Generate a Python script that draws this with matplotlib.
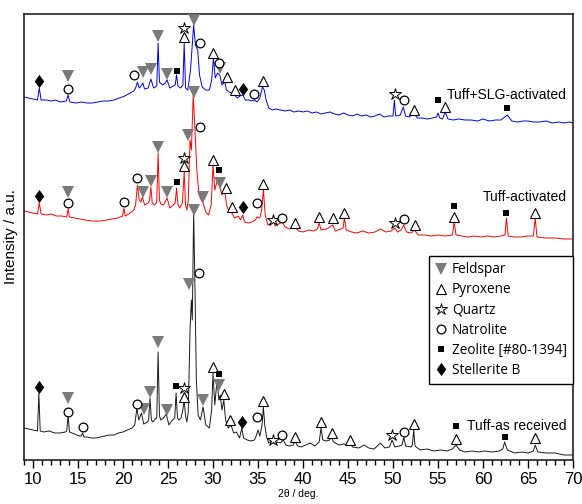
import matplotlib
matplotlib.use("Agg")
import matplotlib.pyplot as plt
from matplotlib.lines import Line2D

# ---------------- data (2theta in deg, intensity in a.u.) ----------------
asrec_2t = [9.0, 9.5, 10.0, 10.5, 10.65, 10.8, 11.2, 11.8, 12.4, 13.0,
            13.6, 13.75, 13.9, 14.05, 14.6, 15.2, 15.35, 15.5, 15.65, 16.0,
            16.5, 17.0, 17.5, 18.0, 18.5, 19.0, 19.5, 20.0, 20.5, 21.0,
            21.3, 21.55, 21.75, 22.05, 22.3, 22.7, 22.85, 23.0, 23.15, 23.3,
            23.6, 23.75, 23.9, 24.05, 24.2, 24.5, 24.8, 25.1, 25.5, 25.75,
            25.9, 26.05, 26.2, 26.45, 26.65, 26.8, 26.95, 27.1, 27.25, 27.45,
            27.6, 27.7, 27.85, 28.0, 28.15, 28.35, 28.6, 28.9, 29.2, 29.6,
            29.85, 30.0, 30.2, 30.45, 30.65, 30.8, 31.0, 31.2, 31.4, 31.7,
            32.0, 32.3, 32.6, 32.95, 33.2, 33.4, 33.8, 34.2, 34.6, 34.8,
            35.0, 35.2, 35.45, 35.6, 35.75, 35.95, 36.2, 36.6, 36.8, 37.1,
            37.5, 37.8, 38.1, 38.5, 38.9, 39.1, 39.4, 39.8, 40.3, 40.8,
            41.3, 41.8, 42.0, 42.2, 42.6, 42.95, 43.15, 43.4, 44.0, 44.5,
            45.0, 45.2, 45.5, 46.2, 46.8, 47.3, 47.9, 48.6, 49.1, 49.6,
            49.9, 50.2, 50.7, 51.0, 51.2, 51.4, 52.0, 52.15, 52.3, 52.45,
            53.0, 53.8, 54.5, 55.3, 56.0, 56.6, 57.0, 57.4, 58.0, 58.8,
            59.5, 60.2, 61.0, 61.8, 62.2, 62.4, 62.7, 63.5, 64.3, 65.0,
            65.6, 65.8, 66.1, 67.0, 68.0, 69.0, 70.0]
asrec_int = [32, 31, 30, 29, 67, 29, 28, 29, 27, 27,
             28, 29, 45, 28, 26, 24, 24, 27, 23, 23,
             22, 22, 23, 24, 25, 25, 27, 28, 30, 32,
             35, 52, 40, 47, 36, 38, 40, 62, 40, 38,
             41, 42, 108, 44, 40, 42, 46, 35, 40, 42,
             67, 42, 40, 42, 50, 60, 44, 38, 48, 130,
             160, 140, 248, 170, 80, 45, 40, 53, 35, 32,
             50, 87, 55, 80, 60, 65, 50, 60, 40, 32,
             35, 27, 28, 22, 32, 22, 20, 19, 20, 24,
             30, 24, 35, 53, 35, 23, 17, 20, 16, 18,
             17, 20, 15, 14, 15, 19, 14, 13, 15, 17,
             14, 18, 32, 20, 19, 20, 23, 18, 15, 16,
             15, 17, 13, 12, 15, 12, 11, 17, 12, 13,
             20, 13, 14, 15, 23, 14, 13, 15, 30, 14,
             10, 11, 9, 10, 9, 11, 15, 10, 8, 9,
             8, 9, 8, 9, 11, 18, 10, 7, 8, 7,
             9, 15, 8, 7, 7, 5, 5]

act_2t = [9.0, 9.5, 10.0, 10.5, 10.7, 10.9, 11.5, 12.0, 12.6, 13.2,
          13.75, 13.9, 14.05, 14.6, 15.2, 15.8, 16.4, 17.0, 17.6, 18.2,
          18.8, 19.4, 19.95, 20.1, 20.25, 20.8, 21.2, 21.4, 21.6, 21.8,
          22.0, 22.15, 22.4, 22.8, 22.95, 23.1, 23.25, 23.5, 23.75, 23.9,
          24.05, 24.2, 24.5, 24.9, 25.2, 25.6, 25.8, 25.95, 26.1, 26.3,
          26.6, 26.8, 26.95, 27.1, 27.25, 27.45, 27.6, 27.8, 28.0, 28.2,
          28.45, 28.7, 28.9, 29.2, 29.5, 29.8, 30.0, 30.2, 30.5, 30.75,
          31.0, 31.3, 31.5, 31.8, 32.1, 32.4, 32.8, 33.05, 33.3, 33.5,
          33.9, 34.3, 34.7, 34.9, 35.2, 35.4, 35.6, 35.8, 36.1, 36.5,
          36.7, 36.9, 37.3, 37.7, 38.0, 38.5, 39.1, 39.5, 40.0, 40.6,
          41.2, 41.6, 41.8, 42.0, 42.6, 43.0, 43.3, 43.6, 44.2, 44.45,
          44.6, 44.8, 45.4, 46.0, 46.6, 47.3, 48.0, 48.6, 49.2, 49.8,
          50.2, 50.5, 50.9, 51.2, 51.5, 52.0, 52.4, 52.8, 53.5, 54.2,
          55.0, 55.8, 56.6, 56.8, 57.0, 57.6, 58.3, 59.0, 59.8, 60.5,
          61.2, 62.0, 62.45, 62.6, 62.8, 63.5, 64.2, 65.0, 65.6, 65.8,
          66.0, 67.0, 68.0, 69.0, 70.0]
act_int = [249, 248, 247, 246, 257, 246, 245, 246, 244, 244,
           243, 251, 243, 242, 241, 240, 239, 239, 239, 240,
           241, 242, 244, 252, 244, 247, 250, 255, 275, 260,
           258, 263, 255, 257, 260, 273, 257, 255, 258, 307,
           260, 256, 255, 262, 252, 255, 257, 272, 256, 252,
           257, 288, 255, 250, 260, 320, 310, 365, 330, 290,
           265, 260, 257, 248, 245, 255, 295, 270, 280, 273,
           265, 270, 255, 248, 247, 242, 244, 240, 245, 238,
           237, 238, 240, 243, 242, 250, 270, 245, 235, 237,
           240, 234, 236, 238, 233, 231, 233, 229, 228, 230,
           229, 231, 237, 230, 231, 233, 235, 229, 231, 232,
           242, 230, 228, 227, 229, 227, 228, 231, 228, 229,
           232, 228, 230, 235, 228, 227, 230, 225, 225, 224,
           225, 224, 225, 238, 225, 224, 223, 224, 223, 224,
           223, 224, 225, 242, 224, 223, 223, 224, 224, 242,
           223, 222, 222, 221, 221]

slg_2t = [9.0, 9.5, 10.0, 10.5, 10.7, 10.9, 11.5, 12.0, 12.5, 13.0,
          13.7, 13.9, 14.1, 14.8, 15.4, 16.0, 16.6, 17.2, 17.8, 18.4,
          19.0, 19.6, 20.2, 20.8, 21.2, 21.4, 21.6, 21.8, 22.0, 22.2,
          22.4, 22.8, 23.1, 23.4, 23.75, 23.9, 24.05, 24.4, 24.7, 24.9,
          25.2, 25.6, 25.8, 25.95, 26.1, 26.4, 26.65, 26.8, 26.95, 27.2,
          27.5, 27.85, 28.05, 28.3, 28.5, 28.8, 29.2, 29.6, 29.85, 30.05,
          30.25, 30.5, 30.75, 31.0, 31.3, 31.5, 31.8, 32.1, 32.4, 32.7,
          33.0, 33.3, 33.6, 34.0, 34.3, 34.6, 34.9, 35.2, 35.5, 35.7,
          35.9, 36.2, 36.6, 37.0, 37.5, 38.0, 38.5, 39.0, 39.5, 40.0,
          40.5, 41.0, 41.5, 42.0, 42.5, 43.0, 43.5, 44.0, 44.5, 45.0,
          45.5, 46.0, 46.5, 47.0, 47.5, 48.0, 48.5, 49.0, 49.5, 50.0,
          50.15, 50.3, 50.8, 51.15, 51.4, 51.8, 52.3, 52.7, 53.2, 53.8,
          54.4, 54.85, 55.0, 55.2, 55.5, 55.8, 56.1, 56.7, 57.3, 58.0,
          58.7, 59.4, 60.0, 60.7, 61.4, 62.0, 62.7, 63.2, 63.8, 64.5,
          65.0, 65.6, 66.3, 67.0, 67.7, 68.4, 69.0, 69.6, 70.0]
slg_int = [363, 362, 361, 360, 372, 360, 360, 359, 360, 358,
           359, 365, 358, 357, 358, 357, 357, 358, 359, 359,
           360, 362, 364, 367, 369, 372, 378, 372, 374, 377,
           371, 372, 381, 372, 374, 417, 378, 375, 377, 380,
           372, 374, 375, 385, 374, 372, 375, 417, 372, 370,
           390, 435, 415, 410, 385, 373, 370, 370, 380, 402,
           382, 387, 385, 375, 378, 370, 368, 367, 365, 362,
           364, 365, 360, 360, 359, 360, 358, 362, 373, 370,
           360, 352, 350, 351, 350, 349, 350, 348, 349, 348,
           349, 347, 348, 346, 347, 348, 346, 345, 347, 345,
           344, 346, 344, 345, 343, 344, 346, 343, 344, 344,
           360, 344, 345, 353, 344, 343, 347, 342, 342, 341,
           342, 343, 347, 342, 341, 348, 341, 340, 341, 340,
           340, 339, 341, 339, 340, 340, 345, 339, 338, 339,
           339, 338, 338, 339, 337, 338, 337, 338, 337]

# phase markers: (2theta, intensity) for each sample
feldspar_2t = [13.9, 22.3, 23.0, 23.9, 24.9, 27.3, 27.85, 28.9, 30.7,
               13.9, 22.2, 23.1, 23.9, 24.9, 27.2, 27.85, 28.9, 30.8,
               13.9, 22.2, 23.1, 23.9, 24.9, 27.85, 30.8]
feldspar_int = [62, 51, 68, 118, 50, 176, 250, 60, 75,
                268, 268, 279, 313, 268, 325, 368, 263, 277,
                384, 388, 391, 424, 386, 440, 392]
pyroxene_2t = [26.8, 30.0, 31.2, 31.9, 35.6, 39.1, 42.0, 43.2, 45.2, 52.3, 57.0, 65.8,
               26.8, 30.0, 31.4, 32.1, 35.6, 39.1, 41.8, 43.3, 44.6, 52.4, 56.8, 65.8,
               26.8, 30.0, 31.5, 32.4, 35.6, 52.3, 55.8]
pyroxene_int = [63, 93, 66, 40, 59, 23, 38, 27, 20, 36, 21, 22,
                294, 300, 272, 253, 276, 237, 243, 242, 247, 235, 243, 247,
                423, 407, 383, 370, 379, 350, 353]
quartz_2t = [26.8, 36.7, 49.9, 26.8, 36.7, 50.2, 26.8, 50.2]
quartz_int = [72, 20, 25, 302, 240, 237, 432, 366]
natrolite_2t = [13.9, 15.5, 21.5, 28.4, 34.9, 37.7, 51.2,
                13.9, 20.1, 21.6, 28.5, 34.9, 37.7, 51.2,
                13.9, 21.2, 28.5, 30.7, 34.6, 51.2]
natrolite_int = [48, 33, 56, 187, 43, 25, 28,
                 257, 258, 282, 333, 257, 242, 241,
                 371, 385, 417, 397, 366, 360]
zeolite_2t = [25.9, 30.7, 57.0, 62.4, 26.0, 30.7, 56.8, 62.6, 26.0, 55.0, 62.7]
zeolite_int = [74, 86, 34, 23, 278, 290, 254, 247, 389, 360, 352]
stellerite_2t = [10.65, 33.2, 10.7, 33.3, 10.7, 33.3]
stellerite_int = [73, 38, 264, 253, 379, 371]

sample_labels = ["Tuff+SLG-activated", "Tuff-activated", "Tuff-as received"]
sample_label_int = [365, 263, 34]
phase_names = ["Feldspar", "Pyroxene", "Quartz", "Natrolite",
               "Zeolite [#80-1394]", "Stellerite B"]
xticks = list(range(10, 75, 5))

# ---------------- figure ----------------
fig = plt.figure(figsize=(5.82, 5.04), dpi=100)
ax = fig.add_axes([24 / 582, 44 / 504, 549 / 582, 446 / 504])

ax.plot(asrec_2t, asrec_int, color="#1a1a1a", lw=0.7, zorder=2)
ax.plot(act_2t, act_int, color="#ff0000", lw=0.7, zorder=2)
ax.plot(slg_2t, slg_int, color="#0000ee", lw=0.7, zorder=2)

diamond = [(0, 1), (0.72, 0), (0, -1), (-0.72, 0), (0, 1)]
styles = [
    dict(marker="v", color="#7a7a7a", ms=8, mew=0, ls="none"),
    dict(marker="^", mfc="white", mec="black", ms=7, mew=0.8, ls="none"),
    dict(marker="*", mfc="white", mec="black", ms=9, mew=0.7, ls="none"),
    dict(marker="o", mfc="white", mec="black", ms=6.3, mew=0.9, ls="none"),
    dict(marker="s", color="black", ms=5, mew=0, ls="none"),
    dict(marker=diamond, color="black", ms=9.5, mew=0, ls="none"),
]
phase_data = [(feldspar_2t, feldspar_int), (pyroxene_2t, pyroxene_int),
              (quartz_2t, quartz_int), (natrolite_2t, natrolite_int),
              (zeolite_2t, zeolite_int), (stellerite_2t, stellerite_int)]
handles = []
for (px, py), st, name in zip(phase_data, styles, phase_names):
    ax.plot(px, py, zorder=4, **st)
    handles.append(Line2D([], [], label=name, **st))

for lab, yv in zip(sample_labels, sample_label_int):
    ax.text(69.3, yv, lab, ha="right", va="center", fontsize=10,
            family="Liberation Sans", zorder=5)

leg = ax.legend(handles=handles, loc="upper right", bbox_to_anchor=(1.0, 0.457),
                borderaxespad=0, fancybox=False, edgecolor="black", framealpha=1,
                prop={"family": "Open Sans", "size": 9.8}, labelspacing=0.38,
                handlelength=0.9, handletextpad=0.35, borderpad=0.45)
leg.get_frame().set_linewidth(1.0)

ax.set_xlim(9, 70)
ax.set_ylim(0, 446)
ax.set_xticks(xticks)
ax.set_xticks(range(9, 71), minor=True)
ax.set_yticks([])
ax.tick_params(axis="x", which="major", direction="out", length=6, width=1,
               labelsize=12, pad=3)
ax.tick_params(axis="x", which="minor", direction="out", length=3.5, width=1)
for lab in ax.get_xticklabels():
    lab.set_family("Liberation Sans")
for sp in ax.spines.values():
    sp.set_linewidth(1.2)
    sp.set_color("#222222")

ax.set_ylabel("Intensity / a.u.", fontsize=11, family="Liberation Sans", labelpad=4)
ax.set_xlabel("2θ / deg.", fontsize=7.5, family="Liberation Sans", labelpad=1)

fig.savefig("out.png", dpi=100)
